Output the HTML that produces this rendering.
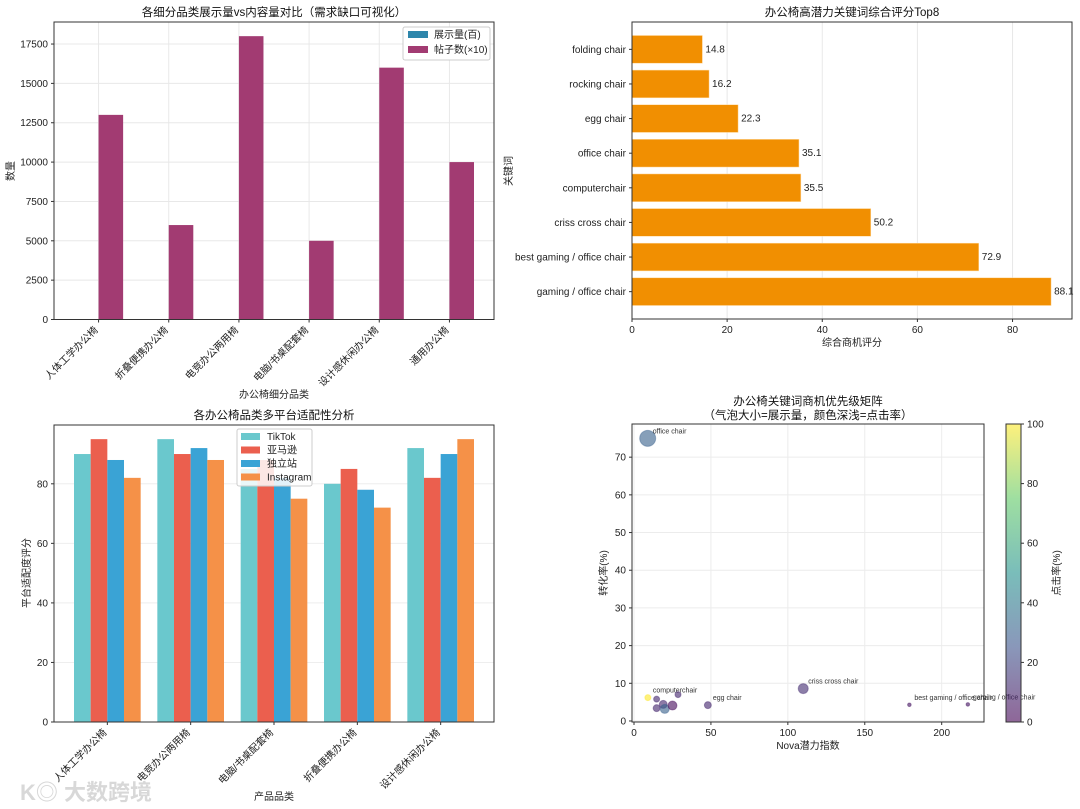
<!DOCTYPE html>
<html><head><meta charset="utf-8"><style>
body{margin:0;background:#fff;}
svg{display:block;font-family:"Liberation Sans","Noto Sans CJK SC",sans-serif;}
</style></head><body>
<svg id="fig" width="1080" height="809" viewBox="0 0 1080 809" xmlns="http://www.w3.org/2000/svg">
<defs>
<linearGradient id="vir" x1="0" y1="1" x2="0" y2="0">
<stop offset="0" stop-color="#440154"/><stop offset="0.25" stop-color="#3b528b"/><stop offset="0.5" stop-color="#21918c"/><stop offset="0.75" stop-color="#5ec962"/><stop offset="1" stop-color="#fde725"/>
</linearGradient>
</defs>
<text x="20" y="800" font-size="22" fill="#d8d8d8" font-weight="bold">K◎ 大数跨境</text>
</svg>
<script>
// ---------- Chart 1 data ----------
const c1Cats = ["人体工学办公椅","折叠便携办公椅","电竞办公两用椅","电脑/书桌配套椅","设计感休闲办公椅","通用办公椅"];
const c1Impr = [0,0,0,0,0,0];
const c1Posts = [13000,6000,18000,5000,16000,10000];
const c1Ticks = [0,2500,5000,7500,10000,12500,15000,17500];
// ---------- Chart 2 data ----------
const c2Keys = ["gaming / office chair","best gaming / office chair","criss cross chair","computerchair","office chair","egg chair","rocking chair","folding chair"];
const c2Scores = [88.1,72.9,50.2,35.5,35.1,22.3,16.2,14.8];
const c2Ticks = [0,20,40,60,80];
// ---------- Chart 3 data ----------
const c3Cats = ["人体工学办公椅","电竞办公两用椅","电脑/书桌配套椅","折叠便携办公椅","设计感休闲办公椅"];
const c3Series = ["TikTok","亚马逊","独立站","Instagram"];
const c3TikTok = [90,95,85,80,92];
const c3Amazon = [95,90,88,85,82];
const c3Indep = [88,92,82,78,90];
const c3Insta = [82,88,75,72,95];
const c3Ticks = [0,20,40,60,80];
// ---------- Chart 4 data ----------
const c4X = [8.9,9,14.7,14.7,19,20,25,28.6,48,110,179,217];
const c4Y = [75,6.2,5.8,3.4,4.4,3.2,4.1,7.0,4.2,8.6,4.3,4.4];
const c4Size = [8,3,3,3.5,4,4.5,4.5,3,3.5,5,1.8,1.8];
const c4CTR = [30,100,10,10,10,30,2,10,10,12,5,5];
const c4Labels = ["office chair","computerchair","","","","","","","egg chair","criss cross chair","best gaming / office chair","gaming / office chair"];
const c4XTicks = [0,50,100,150,200];
const c4YTicks = [0,10,20,30,40,50,60,70];
const cbTicks = [0,20,40,60,80,100];

const NS="http://www.w3.org/2000/svg";
const svg=document.getElementById('fig');
function mk(tag,attrs,parent,text){const e=document.createElementNS(NS,tag);for(const k in attrs)e.setAttribute(k,attrs[k]);if(text!==undefined)e.textContent=text;(parent||svg).appendChild(e);return e;}
function frame(L,T,R,B){mk('rect',{x:L,y:T,width:R-L,height:B-T,fill:'none',stroke:'#333','stroke-width':1});}

// ===== Chart 1 =====
(function(){
const L=54,R=494,T=22,B=319.5,xmin=-0.635,xmax=5.635,ymax=18900;
const g=mk('g',{});
const sx=v=>L+(v-xmin)/(xmax-xmin)*(R-L), sy=v=>B-v/ymax*(B-T);
c1Ticks.forEach(t=>{mk('line',{x1:L,x2:R,y1:sy(t),y2:sy(t),stroke:'#e8e8e8'},g);mk('line',{x1:L-3,x2:L,y1:sy(t),y2:sy(t),stroke:'#333'},g);mk('text',{x:L-6,y:sy(t)+3.5,'font-size':10,'text-anchor':'end',fill:'#222'},g,t);});
c1Cats.forEach((c,i)=>{const x=sx(i);mk('line',{x1:x,x2:x,y1:T,y2:B,stroke:'#e8e8e8'},g);mk('line',{x1:x,x2:x,y1:B,y2:B+3,stroke:'#333'},g);
 const t=mk('text',{x:x,y:B+11,'font-size':10,'text-anchor':'end',transform:`rotate(-45 ${x} ${B+11})`,fill:'#222'},g,c);});
c1Cats.forEach((c,i)=>{const w=0.35*(R-L)/(xmax-xmin);
 const b1=mk('rect',{x:sx(i)-w,y:sy(c1Impr[i]),width:w,height:B-sy(c1Impr[i]),fill:'#2e86ab'},g);
 const b=mk('rect',{x:sx(i),y:sy(c1Posts[i]),width:w,height:B-sy(c1Posts[i]),fill:'#a23b72'},g);});
frame(L,T,R,B);
mk('text',{x:274,y:16,'font-size':11.5,'text-anchor':'middle',fill:'#111'},g,'各细分品类展示量vs内容量对比（需求缺口可视化）');
mk('text',{x:274,y:398,'font-size':10,'text-anchor':'middle',fill:'#222'},g,'办公椅细分品类');
mk('text',{x:14,y:171,'font-size':10,'text-anchor':'middle',transform:'rotate(-90 14 171)',fill:'#222'},g,'数量');
const lg=mk('g',{},g);
mk('rect',{x:403,y:27,width:87,height:33,fill:'#fff',stroke:'#ccc',rx:2},lg);
mk('rect',{x:408,y:31,width:20,height:7,fill:'#2e86ab'},lg);mk('text',{x:434,y:38,'font-size':10,fill:'#222'},lg,'展示量(百)');
mk('rect',{x:408,y:46,width:20,height:7,fill:'#a23b72'},lg);mk('text',{x:434,y:53,'font-size':10,fill:'#222'},lg,'帖子数(×10)');
})();

// ===== Chart 2 =====
(function(){
const L=632,R=1072,T=22,B=319,xmax=92.5,ymin=-0.79,ymax=7.79;
const g=mk('g',{});
const sx=v=>L+v/xmax*(R-L), sy=v=>B-(v-ymin)/(ymax-ymin)*(B-T);
c2Ticks.forEach(t=>{mk('line',{x1:sx(t),x2:sx(t),y1:T,y2:B,stroke:'#e8e8e8'},g);mk('line',{x1:sx(t),x2:sx(t),y1:B,y2:B+3,stroke:'#333'},g);mk('text',{x:sx(t),y:B+14,'font-size':10,'text-anchor':'middle',fill:'#222'},g,t);});
const h=0.8*(B-T)/(ymax-ymin);
c2Keys.forEach((k,i)=>{const y=sy(i);
 const b=mk('rect',{x:L,y:y-h/2,width:sx(c2Scores[i])-L,height:h,fill:'#f18f01',stroke:'#ffd9a0','stroke-width':0.5},g);
 mk('line',{x1:L-3,x2:L,y1:y,y2:y,stroke:'#333'},g);
 mk('text',{x:L-6,y:y+3.5,'font-size':10,'text-anchor':'end',fill:'#222'},g,k);
 mk('text',{x:sx(c2Scores[i])+3,y:y+3,'font-size':10,fill:'#222'},g,c2Scores[i].toFixed(1));});
frame(L,T,R,B);
mk('text',{x:852,y:16,'font-size':11.5,'text-anchor':'middle',fill:'#111'},g,'办公椅高潜力关键词综合评分Top8');
mk('text',{x:852,y:346,'font-size':10,'text-anchor':'middle',fill:'#222'},g,'综合商机评分');
mk('text',{x:512,y:171,'font-size':10,'text-anchor':'middle',transform:'rotate(-90 512 171)',fill:'#222'},g,'关键词');
})();

// ===== Chart 3 =====
(function(){
const L=54,R=494,T=425,B=722,xmin=-0.64,xmax=4.64,ymax=99.75;
const g=mk('g',{});
const sx=v=>L+(v-xmin)/(xmax-xmin)*(R-L), sy=v=>B-v/ymax*(B-T);
c3Ticks.forEach(t=>{mk('line',{x1:L,x2:R,y1:sy(t),y2:sy(t),stroke:'#eee'},g);mk('line',{x1:L-3,x2:L,y1:sy(t),y2:sy(t),stroke:'#333'},g);mk('text',{x:L-6,y:sy(t)+3.5,'font-size':10,'text-anchor':'end',fill:'#222'},g,t);});
const series=[c3TikTok,c3Amazon,c3Indep,c3Insta], cols=['#6ac8cd','#eb5f4e','#3aa3d5','#f59148'], names=['bar-tiktok','bar-amazon','bar-independent','bar-instagram'];
const w=0.2*(R-L)/(xmax-xmin);
c3Cats.forEach((c,i)=>{series.forEach((s,j)=>{const x=sx(i+(j-1.5)*0.2)-w/2;
 const b=mk('rect',{x:x,y:sy(s[i]),width:w,height:B-sy(s[i]),fill:cols[j]},g);});
 const x=sx(i);mk('line',{x1:x,x2:x,y1:B,y2:B+3,stroke:'#333'},g);
 mk('text',{x:x,y:B+11,'font-size':10,'text-anchor':'end',transform:`rotate(-45 ${x} ${B+11})`,fill:'#222'},g,c);});
frame(L,T,R,B);
mk('text',{x:274,y:419,'font-size':11.5,'text-anchor':'middle',fill:'#111'},g,'各办公椅品类多平台适配性分析');
mk('text',{x:274,y:800,'font-size':10,'text-anchor':'middle',fill:'#222'},g,'产品品类');
mk('text',{x:30,y:573,'font-size':10,'text-anchor':'middle',transform:'rotate(-90 30 573)',fill:'#222'},g,'平台适配度评分');
const lg=mk('g',{},g);
mk('rect',{x:237,y:429,width:75,height:57,fill:'#fff','fill-opacity':0.85,stroke:'#ccc',rx:2},lg);
c3Series.forEach((s,j)=>{const y=433+j*13.5;mk('rect',{x:241,y:y,width:19,height:7,fill:cols[j]},lg);mk('text',{x:267,y:y+7,'font-size':10,fill:'#222'},lg,s);});
})();

// ===== Chart 4 =====
(function(){
const L=632,R=984,T=424,B=722,xmin=-1.3,xmax=227.5,ymin=-0.27,ymax=78.8;
const g=mk('g',{});
const sx=v=>L+(v-xmin)/(xmax-xmin)*(R-L), sy=v=>B-(v-ymin)/(ymax-ymin)*(B-T);
c4XTicks.forEach(t=>{mk('line',{x1:sx(t),x2:sx(t),y1:T,y2:B,stroke:'#ececec'},g);mk('line',{x1:sx(t),x2:sx(t),y1:B,y2:B+3,stroke:'#333'},g);mk('text',{x:sx(t),y:B+14,'font-size':10,'text-anchor':'middle',fill:'#222'},g,t);});
c4YTicks.forEach(t=>{mk('line',{x1:L,x2:R,y1:sy(t),y2:sy(t),stroke:'#ececec'},g);mk('line',{x1:L-3,x2:L,y1:sy(t),y2:sy(t),stroke:'#333'},g);mk('text',{x:L-6,y:sy(t)+3.5,'font-size':10,'text-anchor':'end',fill:'#222'},g,t);});
const vir=[[68,1,84],[59,82,139],[33,145,140],[94,201,98],[253,231,37]];
function vc(p){p=Math.max(0,Math.min(100,p))/25;const i=Math.min(3,Math.floor(p)),f=p-i;const a=vir[i],b=vir[i+1];return `rgb(${a.map((v,k)=>Math.round(v+(b[k]-v)*f)).join(',')})`;}
c4X.forEach((x,i)=>{const c=mk('circle',{cx:sx(x),cy:sy(c4Y[i]),r:c4Size[i],fill:vc(c4CTR[i]),'fill-opacity':0.6,stroke:vc(c4CTR[i]),'stroke-opacity':0.4},g);
 if(c4Labels[i])mk('text',{x:sx(x)+5,y:sy(c4Y[i])-5,'font-size':7,fill:'#333'},g,c4Labels[i]);});
frame(L,T,R,B);
mk('text',{x:808,y:405,'font-size':11.5,'text-anchor':'middle',fill:'#111'},g,'办公椅关键词商机优先级矩阵');
mk('text',{x:808,y:419,'font-size':11.5,'text-anchor':'middle',fill:'#111'},g,'（气泡大小=展示量，颜色深浅=点击率）');
mk('text',{x:808,y:749,'font-size':10,'text-anchor':'middle',fill:'#222'},g,'Nova潜力指数');
mk('text',{x:607,y:573,'font-size':10,'text-anchor':'middle',transform:'rotate(-90 607 573)',fill:'#222'},g,'转化率(%)');
const cb=mk('g',{},g);
mk('rect',{x:1006,y:424,width:15,height:298,fill:'url(#vir)','fill-opacity':0.6},cb);
mk('rect',{x:1006,y:424,width:15,height:298,fill:'none',stroke:'#333'},cb);
cbTicks.forEach(t=>{const y=722-t/100*298;mk('line',{x1:1021,x2:1024,y1:y,y2:y,stroke:'#333'},cb);mk('text',{x:1027,y:y+3.5,'font-size':10,fill:'#222'},cb,t);});
mk('text',{x:1060,y:573,'font-size':10,'text-anchor':'middle',transform:'rotate(-90 1060 573)',fill:'#222'},cb,'点击率(%)');
})();
</script>
</body></html>
